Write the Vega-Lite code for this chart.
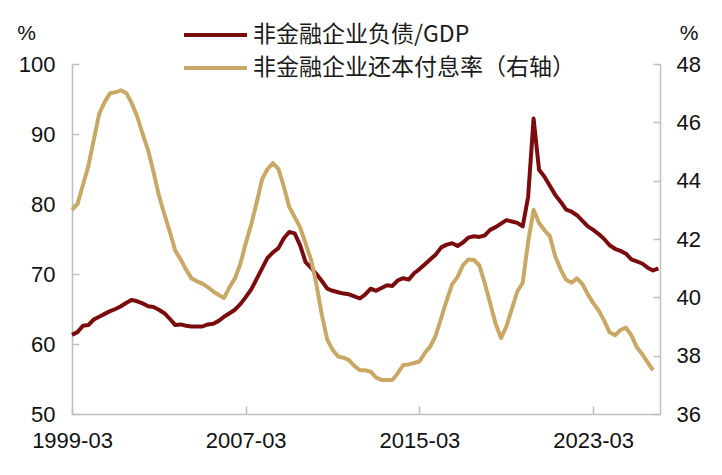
{
  "$schema": "https://vega.github.io/schema/vega-lite/v6.json",
  "width": 588,
  "height": 350,
  "autosize": {"type": "none"},
  "padding": {"left": 72, "top": 64, "right": 62, "bottom": 61},
  "background": "white",
  "config": {
    "view": {"stroke": null},
    "axis": {
      "grid": false,
      "domainColor": "#bfbfbf",
      "tickColor": "#bfbfbf",
      "domainWidth": 1.5,
      "tickWidth": 1.5,
      "labelFont": "Liberation Sans",
      "labelFontSize": 22,
      "labelColor": "#111111",
      "titleFont": "Liberation Sans",
      "titleFontSize": 21,
      "titleFontWeight": "normal",
      "titleColor": "#111111"
    }
  },
  "datasets": {
    "debt": [
      {"d": "1999-03", "v": 61.3}, {"d": "1999-06", "v": 61.7}, {"d": "1999-09", "v": 62.6}, {"d": "1999-12", "v": 62.7},
      {"d": "2000-03", "v": 63.5}, {"d": "2000-06", "v": 63.9}, {"d": "2000-09", "v": 64.3}, {"d": "2000-12", "v": 64.7},
      {"d": "2001-03", "v": 65.0}, {"d": "2001-06", "v": 65.4}, {"d": "2001-09", "v": 65.9}, {"d": "2001-12", "v": 66.3},
      {"d": "2002-03", "v": 66.1}, {"d": "2002-06", "v": 65.8}, {"d": "2002-09", "v": 65.4}, {"d": "2002-12", "v": 65.3},
      {"d": "2003-03", "v": 64.9}, {"d": "2003-06", "v": 64.4}, {"d": "2003-09", "v": 63.6}, {"d": "2003-12", "v": 62.7},
      {"d": "2004-03", "v": 62.8}, {"d": "2004-06", "v": 62.6}, {"d": "2004-09", "v": 62.5}, {"d": "2004-12", "v": 62.5},
      {"d": "2005-03", "v": 62.5}, {"d": "2005-06", "v": 62.8}, {"d": "2005-09", "v": 62.9}, {"d": "2005-12", "v": 63.3},
      {"d": "2006-03", "v": 63.9}, {"d": "2006-06", "v": 64.4}, {"d": "2006-09", "v": 64.9}, {"d": "2006-12", "v": 65.7},
      {"d": "2007-03", "v": 66.7}, {"d": "2007-06", "v": 67.8}, {"d": "2007-09", "v": 69.3}, {"d": "2007-12", "v": 70.8},
      {"d": "2008-03", "v": 72.3}, {"d": "2008-06", "v": 73.1}, {"d": "2008-09", "v": 73.7}, {"d": "2008-12", "v": 75.1},
      {"d": "2009-03", "v": 76.0}, {"d": "2009-06", "v": 75.8}, {"d": "2009-09", "v": 74.1}, {"d": "2009-12", "v": 71.7},
      {"d": "2010-03", "v": 70.9}, {"d": "2010-06", "v": 70.0}, {"d": "2010-09", "v": 69.0}, {"d": "2010-12", "v": 67.9},
      {"d": "2011-03", "v": 67.6}, {"d": "2011-06", "v": 67.4}, {"d": "2011-09", "v": 67.2}, {"d": "2011-12", "v": 67.1},
      {"d": "2012-03", "v": 66.8}, {"d": "2012-06", "v": 66.5}, {"d": "2012-09", "v": 67.1}, {"d": "2012-12", "v": 67.9},
      {"d": "2013-03", "v": 67.6}, {"d": "2013-06", "v": 68.0}, {"d": "2013-09", "v": 68.4}, {"d": "2013-12", "v": 68.3},
      {"d": "2014-03", "v": 69.1}, {"d": "2014-06", "v": 69.4}, {"d": "2014-09", "v": 69.2}, {"d": "2014-12", "v": 70.1},
      {"d": "2015-03", "v": 70.7}, {"d": "2015-06", "v": 71.4}, {"d": "2015-09", "v": 72.1}, {"d": "2015-12", "v": 72.8},
      {"d": "2016-03", "v": 73.8}, {"d": "2016-06", "v": 74.2}, {"d": "2016-09", "v": 74.4}, {"d": "2016-12", "v": 74.0},
      {"d": "2017-03", "v": 74.5}, {"d": "2017-06", "v": 75.2}, {"d": "2017-09", "v": 75.4}, {"d": "2017-12", "v": 75.3},
      {"d": "2018-03", "v": 75.5}, {"d": "2018-06", "v": 76.3}, {"d": "2018-09", "v": 76.7}, {"d": "2018-12", "v": 77.2},
      {"d": "2019-03", "v": 77.7}, {"d": "2019-06", "v": 77.5}, {"d": "2019-09", "v": 77.3}, {"d": "2019-12", "v": 76.8},
      {"d": "2020-03", "v": 81.0}, {"d": "2020-06", "v": 92.2}, {"d": "2020-09", "v": 84.9}, {"d": "2020-12", "v": 83.9},
      {"d": "2021-03", "v": 82.6}, {"d": "2021-06", "v": 81.3}, {"d": "2021-09", "v": 80.3}, {"d": "2021-12", "v": 79.2},
      {"d": "2022-03", "v": 78.9}, {"d": "2022-06", "v": 78.4}, {"d": "2022-09", "v": 77.6}, {"d": "2022-12", "v": 76.8},
      {"d": "2023-03", "v": 76.3}, {"d": "2023-06", "v": 75.7}, {"d": "2023-09", "v": 75.0}, {"d": "2023-12", "v": 74.1},
      {"d": "2024-03", "v": 73.6}, {"d": "2024-06", "v": 73.3}, {"d": "2024-09", "v": 72.9}, {"d": "2024-12", "v": 72.1},
      {"d": "2025-03", "v": 71.8}, {"d": "2025-06", "v": 71.5}, {"d": "2025-09", "v": 70.9}, {"d": "2025-12", "v": 70.5},
      {"d": "2026-03", "v": 70.8}
    ],
    "rate": [
      {"d": "1999-03", "v": 43.0}, {"d": "1999-06", "v": 43.2}, {"d": "1999-09", "v": 43.85}, {"d": "1999-12", "v": 44.5},
      {"d": "2000-03", "v": 45.4}, {"d": "2000-06", "v": 46.3}, {"d": "2000-09", "v": 46.7}, {"d": "2000-12", "v": 47.0},
      {"d": "2001-03", "v": 47.03}, {"d": "2001-06", "v": 47.1}, {"d": "2001-09", "v": 47.0}, {"d": "2001-12", "v": 46.65},
      {"d": "2002-03", "v": 46.2}, {"d": "2002-06", "v": 45.6}, {"d": "2002-09", "v": 45.05}, {"d": "2002-12", "v": 44.3},
      {"d": "2003-03", "v": 43.5}, {"d": "2003-06", "v": 42.85}, {"d": "2003-09", "v": 42.25}, {"d": "2003-12", "v": 41.6},
      {"d": "2004-03", "v": 41.3}, {"d": "2004-06", "v": 40.95}, {"d": "2004-09", "v": 40.65}, {"d": "2004-12", "v": 40.55},
      {"d": "2005-03", "v": 40.47}, {"d": "2005-06", "v": 40.35}, {"d": "2005-09", "v": 40.2}, {"d": "2005-12", "v": 40.08},
      {"d": "2006-03", "v": 39.98}, {"d": "2006-06", "v": 40.35}, {"d": "2006-09", "v": 40.65}, {"d": "2006-12", "v": 41.15},
      {"d": "2007-03", "v": 41.85}, {"d": "2007-06", "v": 42.5}, {"d": "2007-09", "v": 43.25}, {"d": "2007-12", "v": 44.05},
      {"d": "2008-03", "v": 44.4}, {"d": "2008-06", "v": 44.6}, {"d": "2008-09", "v": 44.4}, {"d": "2008-12", "v": 43.8},
      {"d": "2009-03", "v": 43.1}, {"d": "2009-06", "v": 42.75}, {"d": "2009-09", "v": 42.4}, {"d": "2009-12", "v": 41.85},
      {"d": "2010-03", "v": 41.3}, {"d": "2010-06", "v": 40.45}, {"d": "2010-09", "v": 39.4}, {"d": "2010-12", "v": 38.55},
      {"d": "2011-03", "v": 38.2}, {"d": "2011-06", "v": 37.97}, {"d": "2011-09", "v": 37.93}, {"d": "2011-12", "v": 37.85},
      {"d": "2012-03", "v": 37.65}, {"d": "2012-06", "v": 37.5}, {"d": "2012-09", "v": 37.5}, {"d": "2012-12", "v": 37.45},
      {"d": "2013-03", "v": 37.25}, {"d": "2013-06", "v": 37.17}, {"d": "2013-09", "v": 37.17}, {"d": "2013-12", "v": 37.17},
      {"d": "2014-03", "v": 37.4}, {"d": "2014-06", "v": 37.68}, {"d": "2014-09", "v": 37.7}, {"d": "2014-12", "v": 37.75},
      {"d": "2015-03", "v": 37.8}, {"d": "2015-06", "v": 38.1}, {"d": "2015-09", "v": 38.32}, {"d": "2015-12", "v": 38.7},
      {"d": "2016-03", "v": 39.3}, {"d": "2016-06", "v": 39.9}, {"d": "2016-09", "v": 40.45}, {"d": "2016-12", "v": 40.7},
      {"d": "2017-03", "v": 41.1}, {"d": "2017-06", "v": 41.3}, {"d": "2017-09", "v": 41.28}, {"d": "2017-12", "v": 41.1},
      {"d": "2018-03", "v": 40.5}, {"d": "2018-06", "v": 39.8}, {"d": "2018-09", "v": 39.1}, {"d": "2018-12", "v": 38.6},
      {"d": "2019-03", "v": 39.0}, {"d": "2019-06", "v": 39.6}, {"d": "2019-09", "v": 40.2}, {"d": "2019-12", "v": 40.5},
      {"d": "2020-03", "v": 41.9}, {"d": "2020-06", "v": 43.0}, {"d": "2020-09", "v": 42.55}, {"d": "2020-12", "v": 42.3},
      {"d": "2021-03", "v": 42.1}, {"d": "2021-06", "v": 41.4}, {"d": "2021-09", "v": 40.95}, {"d": "2021-12", "v": 40.6},
      {"d": "2022-03", "v": 40.5}, {"d": "2022-06", "v": 40.65}, {"d": "2022-09", "v": 40.45}, {"d": "2022-12", "v": 40.1},
      {"d": "2023-03", "v": 39.8}, {"d": "2023-06", "v": 39.55}, {"d": "2023-09", "v": 39.2}, {"d": "2023-12", "v": 38.8},
      {"d": "2024-03", "v": 38.7}, {"d": "2024-06", "v": 38.88}, {"d": "2024-09", "v": 38.96}, {"d": "2024-12", "v": 38.7},
      {"d": "2025-03", "v": 38.3}, {"d": "2025-06", "v": 38.05}, {"d": "2025-09", "v": 37.77}, {"d": "2025-12", "v": 37.5}
    ]
  },
  "layer": [
    {
      "data": {"name": "debt"},
      "mark": {"type": "line", "strokeWidth": 4, "strokeJoin": "round"},
      "encoding": {
        "x": {
          "field": "d", "type": "temporal",
          "scale": {"type": "utc", "domain": [{"year": 1999, "month": 3, "date": 1, "utc": true}, {"year": 2026, "month": 3, "date": 28, "utc": true}]},
          "axis": {
            "title": null,
            "values": [
              {"year": 1999, "month": 3, "date": 1, "utc": true},
              {"year": 2007, "month": 3, "date": 1, "utc": true},
              {"year": 2015, "month": 3, "date": 1, "utc": true},
              {"year": 2023, "month": 3, "date": 1, "utc": true}
            ],
            "labelExpr": "utcFormat(datum.value, '%Y-%m')",
            "tickSize": -8, "labelPadding": 24, "labelFlush": false, "labelOverlap": false
          }
        },
        "y": {
          "field": "v", "type": "quantitative",
          "scale": {"domain": [50, 100], "nice": false, "zero": false},
          "axis": {
            "orient": "left", "values": [50, 60, 70, 80, 90, 100],
            "tickSize": -7, "labelPadding": 24,
            "title": "%", "titleAngle": 0, "titleX": -46, "titleY": -31,
            "titleAlign": "center", "titleBaseline": "middle"
          }
        },
        "color": {
          "datum": "非金融企业负债/GDP",
          "scale": {"domain": ["非金融企业负债/GDP", "非金融企业还本付息率（右轴）"], "range": ["#7a0c0e", "#c9a866"]},
          "legend": {
            "title": null, "orient": "none", "legendX": 110, "legendY": -41.5,
            "padding": 0, "symbolType": "stroke", "symbolSize": 3969, "symbolStrokeWidth": 4,
            "clipHeight": 25, "rowPadding": 8, "labelOffset": 4,
            "labelFont": "Noto Sans CJK SC", "labelFontSize": 23, "labelColor": "#1a1a1a", "labelLimit": 600
          }
        }
      }
    },
    {
      "data": {"name": "rate"},
      "mark": {"type": "line", "strokeWidth": 4, "strokeJoin": "round"},
      "encoding": {
        "x": {"field": "d", "type": "temporal"},
        "y": {
          "field": "v", "type": "quantitative",
          "scale": {"domain": [36, 48], "nice": false, "zero": false},
          "axis": {
            "orient": "right", "values": [36, 38, 40, 42, 44, 46, 48],
            "tickSize": -7, "labelPadding": 23,
            "title": "%", "titleAngle": 0, "titleX": 28.5, "titleY": -31,
            "titleAlign": "center", "titleBaseline": "middle"
          }
        },
        "color": {"datum": "非金融企业还本付息率（右轴）"}
      }
    }
  ],
  "resolve": {"scale": {"y": "independent"}}
}
